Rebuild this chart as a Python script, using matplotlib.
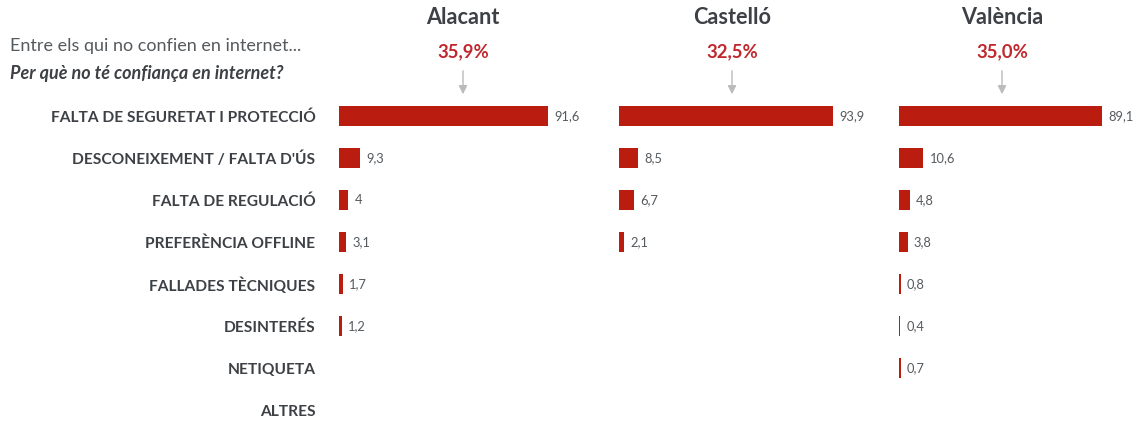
import matplotlib
matplotlib.use('Agg')
from matplotlib import pyplot as plt

plt.rcParams['font.family'] = ['Lato', 'DejaVu Sans']

# data
categories = ['FALTA DE SEGURETAT I PROTECCIÓ', 'DESCONEIXEMENT / FALTA D\'ÚS', 'FALTA DE REGULACIÓ',
              'PREFERÈNCIA OFFLINE', 'FALLADES TÈCNIQUES', 'DESINTERÉS', 'NETIQUETA', 'ALTRES']
regions = ['Alacant', 'Castelló', 'València']
shares = ['35,9%', '32,5%', '35,0%']
alacant = [91.6, 9.3, 4, 3.1, 1.7, 1.2, None, None]
castello = [93.9, 8.5, 6.7, 2.1, None, None, None, None]
valencia = [89.1, 10.6, 4.8, 3.8, 0.8, 0.4, 0.7, None]
values = [alacant, castello, valencia]

W, H = 1141, 423
fig = plt.figure(figsize=(W / 100, H / 100), dpi=100)

bar_col = '#bb1c10'
red_txt = '#c0282d'
grey_txt = '#555a5e'
dark_txt = '#3d4145'

panel_left = [339, 619, 899]
panel_w = 228
head_x = [463, 732, 1002]
top, row_h = 95, 42
nrows = len(categories)

for i, vals in enumerate(values):
    x0 = panel_left[i]
    y_bot = top + row_h * nrows
    ax = fig.add_axes([x0 / W, (H - y_bot) / H, panel_w / W, row_h * nrows / H])
    ys = [k for k, v in enumerate(vals) if v is not None]
    vs = [v for v in vals if v is not None]
    ax.barh(ys, vs, height=0.48, color=bar_col, edgecolor='none')
    for y, v in zip(ys, vs):
        lab = ('%g' % v).replace('.', ',')
        ax.annotate(lab, (v, y), xytext=(4.5, 0), textcoords='offset points',
                    ha='left', va='center', fontsize=9.3, color=grey_txt)
    ax.set_xlim(0, 100)
    ax.set_ylim(nrows - 0.5, -0.5)
    for s in ax.spines.values():
        s.set_visible(False)
    ax.set_xticks([])
    if i == 0:
        ax.set_yticks(range(nrows))
        ax.set_yticklabels(categories, fontsize=11.2, fontweight='bold', color=dark_txt)
        ax.tick_params(axis='y', length=0, pad=17)
    else:
        ax.set_yticks([])

    # headers
    fig.text(head_x[i] / W, 1 - 18 / H, regions[i], ha='center', va='center',
             fontsize=15.6, fontweight='bold', color=dark_txt)
    fig.text(head_x[i] / W, 1 - 52 / H, shares[i], ha='center', va='center',
             fontsize=13.3, fontweight='bold', color=red_txt)
    fig.add_artist(matplotlib.patches.FancyArrowPatch(
        (head_x[i] / W, 1 - 68 / H), (head_x[i] / W, 1 - 97 / H),
        transform=fig.transFigure, arrowstyle='-|>,head_length=5,head_width=2.5',
        color='#bbbbbb', lw=1, mutation_scale=1))

fig.text(10 / W, 1 - 46 / H, 'Entre els qui no confien en internet...', ha='left', va='center',
         fontsize=13, color=grey_txt)
fig.text(10 / W, 1 - 73 / H, 'Per què no té confiança en internet?', ha='left', va='center',
         fontsize=13, fontweight='bold', fontstyle='italic', color=dark_txt)

fig.savefig('out.png', dpi=100)
